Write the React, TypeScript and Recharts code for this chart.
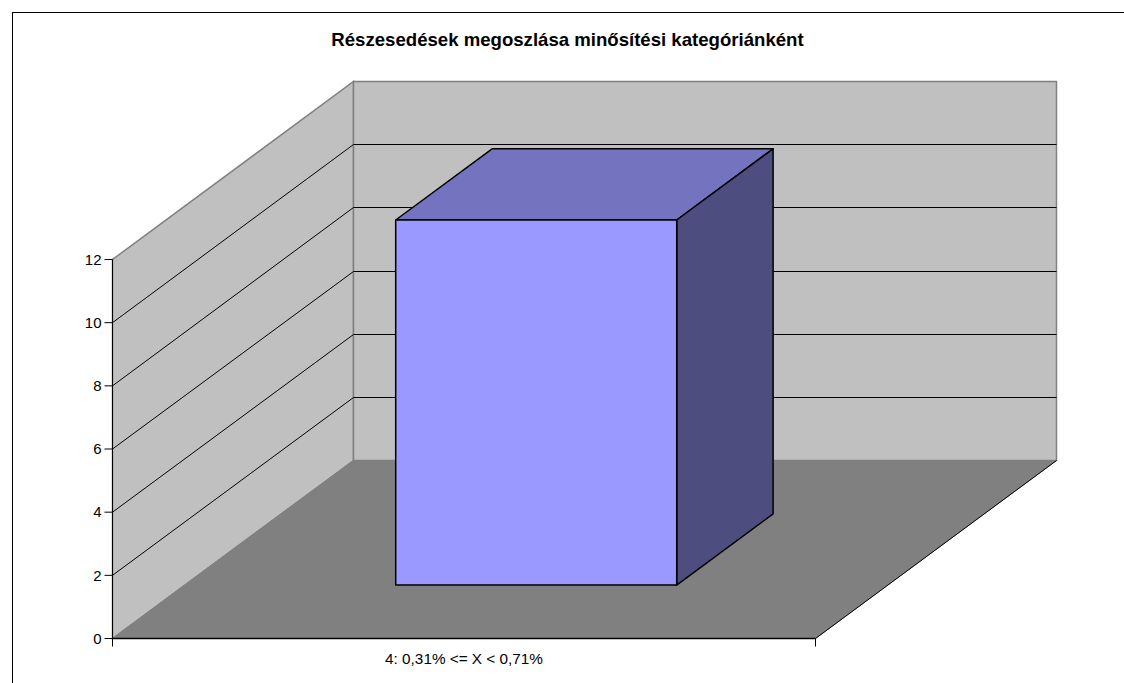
import React from "react";
import { BarChart, Bar, XAxis, YAxis, CartesianGrid, ReferenceArea } from "recharts";

const categories = ["4: 0,31% <= X < 0,71%"];
const shareValues = [11.56];
const yTicks = [0, 2, 4, 6, 8, 10, 12];
const titleText = "Részesedések megoszlása minősítési kategóriánként";

const chartData = categories.map((name, i) => ({ name, value: shareValues[i] }));

const DEPTH_X = 241;
const DEPTH_Y = 178;
const BAR_GAP_RATIO = 0.3;
const BAR_DEPTH_RATIO = 0.4;
const GRAY = "#808080";
const WALL = "#C0C0C0";

const Walls = (p: any) => {
  const { x, y, width, height } = p;
  const bottom = y + height;
  const right = x + width;
  const bx = x + DEPTH_X;
  const byTop = y - DEPTH_Y;
  const byBottom = bottom - DEPTH_Y;
  const brx = right + DEPTH_X;
  return (
    <g>
      <polygon points={`${x},${bottom} ${x},${y} ${bx},${byTop} ${bx},${byBottom}`} fill={WALL} stroke={GRAY} strokeWidth={1.5} />
      <polygon points={`${bx},${byBottom} ${bx},${byTop} ${brx},${byTop} ${brx},${byBottom}`} fill={WALL} stroke={GRAY} strokeWidth={1.5} />
      <polygon points={`${x},${bottom} ${bx},${byBottom} ${brx},${byBottom} ${right},${bottom}`} fill={GRAY} stroke={GRAY} />
      <line x1={right} y1={bottom} x2={brx} y2={byBottom} stroke="#000" />
      <line x1={x} y1={y} x2={x} y2={bottom + 8} stroke="#000" />
      <line x1={x} y1={bottom} x2={right} y2={bottom} stroke="#000" strokeWidth={1.3} />
      <line x1={right} y1={bottom} x2={right} y2={bottom + 8} stroke="#000" />
    </g>
  );
};

const GridLine = (p: any) => {
  const { x1, x2, y1, index } = p;
  if (index === 0 || index === yTicks.length - 1 || y1 === undefined) return <g key={p.key} />;
  const bx = x1 + DEPTH_X;
  const by = Math.floor(y1 - DEPTH_Y) + 0.5;
  const brx = x2 + DEPTH_X;
  return (
    <polyline key={p.key} points={`${x1},${y1} ${bx},${by} ${brx},${by}`} fill="none" stroke="#000" strokeWidth={1} />
  );
};

const Bar3D = (p: any) => {
  const x = p.x + DEPTH_X * BAR_GAP_RATIO;
  const y = p.y - DEPTH_Y * BAR_GAP_RATIO;
  const w = p.width;
  const h = p.height;
  const r = x + w;
  const b = y + h;
  const dx = DEPTH_X * BAR_DEPTH_RATIO;
  const dy = DEPTH_Y * BAR_DEPTH_RATIO;
  return (
    <g stroke="#000" strokeWidth={1.5} strokeLinejoin="round">
      <polygon points={`${x},${y} ${x + dx},${y - dy} ${r + dx},${y - dy} ${r},${y}`} fill="#7373BF" />
      <polygon points={`${r},${y} ${r + dx},${y - dy} ${r + dx},${b - dy} ${r},${b}`} fill="#4D4D80" />
      <rect x={x} y={y} width={w} height={h} fill="#9999FF" />
    </g>
  );
};

const FONT = "'Liberation Sans', Arial, sans-serif";

export default function App() {
  return (
    <div style={{ position: "absolute", left: 0, top: 0, width: 1124, height: 683, overflow: "hidden", background: "#fff" }}>
      <div style={{ position: "absolute", left: 12, top: 12, width: 1200, height: 800, border: "1px solid #000", boxSizing: "border-box" }} />
      <BarChart
        width={1124}
        height={683}
        data={chartData}
        margin={{ top: 259.5, right: 308.5, bottom: 14.5, left: 62.5 }}
        barCategoryGap="30%"
        style={{ position: "absolute", left: 0, top: 0, fontFamily: FONT }}
      >
        <text x={567.5} y={46} textAnchor="middle" fontFamily={FONT} fontSize={18.6} fontWeight="bold" fill="#000">
          {titleText}
        </text>
        <ReferenceArea y1={0} y2={12} shape={Walls} ifOverflow="visible" zIndex={-200} />
        <CartesianGrid vertical={false} horizontal={GridLine as any} syncWithTicks />
        <XAxis
          dataKey="name"
          height={30}
          axisLine={false}
          tickLine={false}
          tickSize={8}
          tickMargin={7}
          tick={{ fill: "#000", fontSize: 15.3, fontFamily: FONT }}
        />
        <YAxis
          domain={[0, 12]}
          ticks={yTicks}
          width={50}
          axisLine={false}
          stroke="#000"
          tickSize={8}
          tickMargin={3}
          interval={0}
          tick={{ fill: "#000", fontSize: 15, fontFamily: FONT }}
        />
        <Bar dataKey="value" shape={Bar3D} isAnimationActive={false} />
      </BarChart>
    </div>
  );
}
